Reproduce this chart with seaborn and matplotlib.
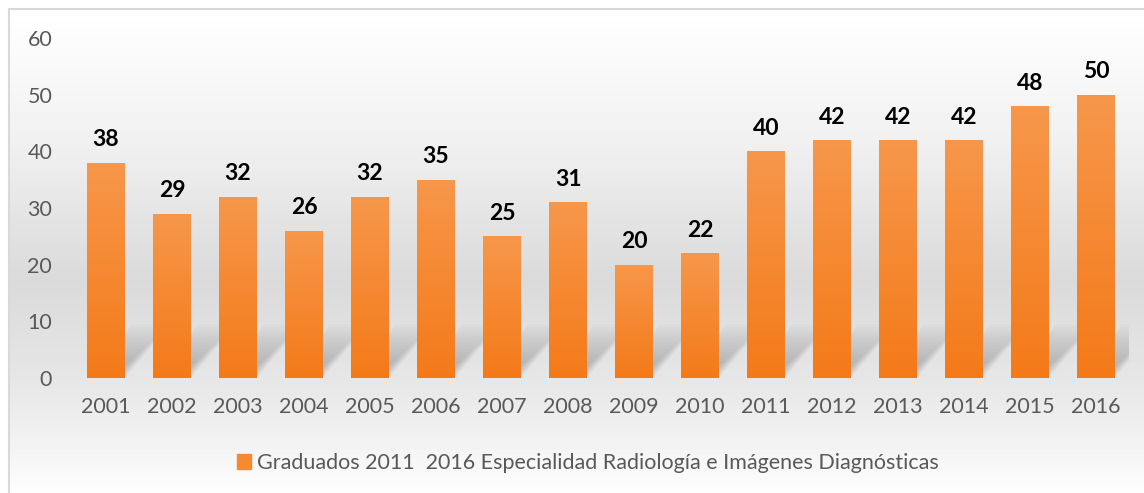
import numpy as np
import pandas as pd
import seaborn as sns
import matplotlib.pyplot as plt
from matplotlib.patches import Patch, Polygon
from matplotlib.lines import Line2D
from matplotlib.colors import LinearSegmentedColormap

# datos
anios = [str(a) for a in range(2001, 2017)]
graduados = [38, 29, 32, 26, 32, 35, 25, 31, 20, 22, 40, 42, 42, 42, 48, 50]
serie = "Graduados 2011  2016 Especialidad Radiología e Imágenes Diagnósticas"
yticks = [0, 10, 20, 30, 40, 50, 60]

df = pd.DataFrame({"anio": anios, "graduados": graduados})

sns.set_theme(style="white")
plt.rcParams["font.family"] = ["Lato", "DejaVu Sans"]

W, H = 1144, 493
fig = plt.figure(figsize=(W / 100, H / 100), dpi=100)

# fondo degradado de la figura
bg = fig.add_axes([0, 0, 1, 1], zorder=-10)
stops_px = [0, 10, 130, 280, 378, 430, 478, 493]
stops_v = [255, 255, 242, 218, 230, 240, 250, 254]
rows = np.interp(np.arange(H), stops_px, stops_v) / 255
rows[:9] = 1.0
img = np.repeat(rows[:, None], W, axis=1)
img[:, :8] = 1.0
bg.imshow(img, cmap="gray", vmin=0, vmax=1, aspect="auto", extent=[0, 1, 0, 1])
bg.set_xlim(0, 1)
bg.set_ylim(0, 1)
bg.axis("off")
# borde del grafico (solo arriba e izquierda quedan dentro de la imagen)
bg.add_line(Line2D([8.5 / W, 1], [1 - 9 / H, 1 - 9 / H], color="#d9d9d9", lw=1.5))
bg.add_line(Line2D([8.5 / W, 8.5 / W], [0, 1 - 9 / H], color="#d9d9d9", lw=1.5))

ax = fig.add_axes([73 / W, 1 - 378 / H, (1129 - 73) / W, 340 / H])
ax.patch.set_alpha(0)

sns.barplot(data=df, x="anio", y="graduados", ax=ax, color="#F58A33",
            width=0.575, saturation=1, linewidth=0, zorder=3)

# degradado en cada barra y sombra diagonal difusa
naranja = LinearSegmentedColormap.from_list("naranja", ["#F47A18", "#F7974B"])
grad = np.linspace(0, 1, 256)[:, None]
for p in ax.patches:
    x0, w, h = p.get_x(), p.get_width(), p.get_height()
    im = ax.imshow(grad, cmap=naranja, extent=[x0, x0 + w, 0, h],
                   origin="lower", aspect="auto", zorder=3.5)
    im.set_clip_path(p)
    for k in range(14):
        hh = 9.5 - k * 0.55
        d = hh * 0.072
        shrink = k * 0.012
        ax.add_patch(Polygon([(x0 + shrink, 0), (x0 + w - shrink, 0),
                              (x0 + w + d - shrink, hh), (x0 + d + shrink, hh)],
                             closed=True, facecolor="#6f6f6f", alpha=0.03,
                             edgecolor="none", zorder=2))

ax.bar_label(ax.containers[0], fontsize=16.5, fontweight="bold", padding=9,
             color="black", zorder=5)

ax.set_xlim(-0.5, len(anios) - 0.5)
ax.set_ylim(0, 60)
ax.set_yticks(yticks)
ax.set_xlabel("")
ax.set_ylabel("")
sns.despine(ax=ax, left=True, bottom=True)
ax.tick_params(axis="both", length=0, labelsize=15.5, colors="#595959")
ax.tick_params(axis="y", pad=15)
ax.tick_params(axis="x", pad=14)

fig.legend(handles=[Patch(color="#F58A33", label=serie)], loc="center",
           bbox_to_anchor=(588 / W, 1 - 463 / H), frameon=False,
           fontsize=15.5, handlelength=0.65, handleheight=0.65,
           handletextpad=0.3, labelcolor="#595959")

fig.savefig("out.png", dpi=100)
